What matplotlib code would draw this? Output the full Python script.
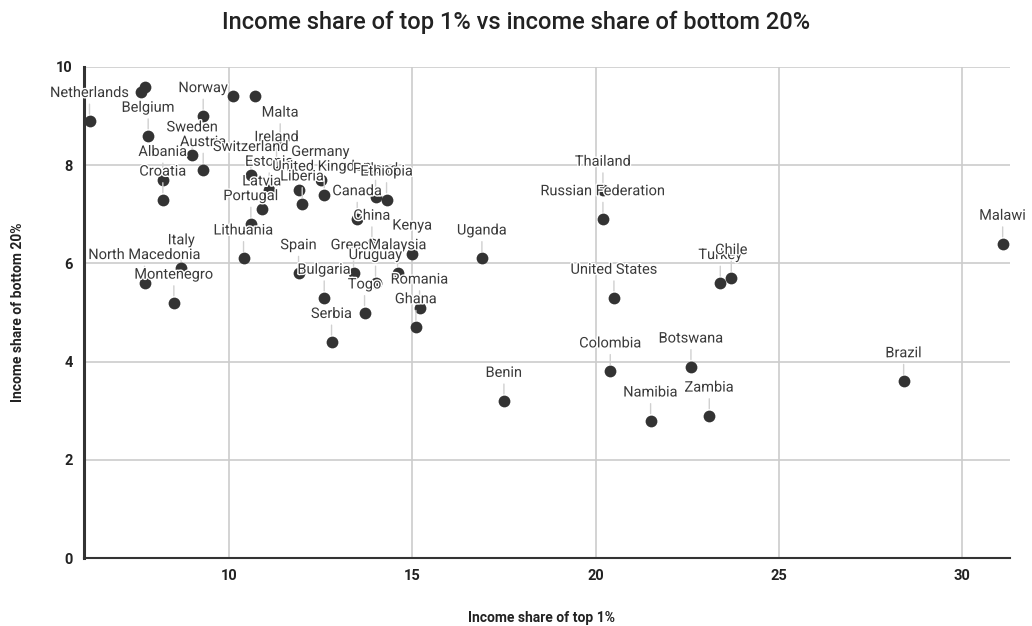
import matplotlib
matplotlib.use("Agg")
import matplotlib.pyplot as plt
import matplotlib.patheffects as pe

plt.rcParams['font.family'] = ['Roboto', 'DejaVu Sans']

countries = ["Netherlands", "", "", "Belgium", "Norway", "", "", "Sweden", "Austria",
             "Albania", "Croatia", "Malta", "Ireland", "Switzerland", "Estonia", "Latvia",
             "Portugal", "Germany", "", "United Kingdom", "Liberia", "Poland", "Ethiopia",
             "Canada", "China", "Kenya", "Lithuania", "Italy", "North Macedonia",
             "Montenegro", "Spain", "Greece", "Malaysia", "Uruguay", "Bulgaria", "Togo",
             "Serbia", "Romania", "Ghana", "Uganda", "Benin", "Thailand",
             "Russian Federation", "United States", "Turkey", "Chile", "Colombia",
             "Botswana", "Namibia", "Zambia", "Brazil", "Malawi"]
top1 = [6.2, 7.6, 7.7, 7.8, 9.3, 10.1, 10.7, 9.0, 9.3,
        8.2, 8.2, 11.4, 11.3, 10.6, 11.1, 10.9,
        10.6, 12.5, 11.9, 12.6, 12.0, 14.0, 14.3,
        13.5, 13.9, 15.0, 10.4, 8.7, 7.7,
        8.5, 11.9, 13.4, 14.6, 14.0, 12.6, 13.7,
        12.8, 15.2, 15.1, 16.9, 17.5, 20.2,
        20.2, 20.5, 23.4, 23.7, 20.4,
        22.6, 21.5, 23.1, 28.4, 31.1]
bottom20 = [8.9, 9.5, 9.6, 8.6, 9.0, 9.4, 9.4, 8.2, 7.9,
            7.7, 7.3, 8.5, 8.0, 7.8, 7.5, 7.1,
            6.8, 7.7, 7.5, 7.4, 7.2, 7.35, 7.3,
            6.9, 6.4, 6.2, 6.1, 5.9, 5.6,
            5.2, 5.8, 5.8, 5.8, 5.6, 5.3, 5.0,
            4.4, 5.1, 4.7, 6.1, 3.2, 7.5,
            6.9, 5.3, 5.6, 5.7, 3.8,
            3.9, 2.8, 2.9, 3.6, 6.4]

x_ticks = [10, 15, 20, 25, 30]
y_ticks = [0, 2, 4, 6, 8, 10]

fig = plt.figure(figsize=(10.32, 6.26), dpi=100)
ax = fig.add_axes([84/1032, 1-558/626, (1010-84)/1032, (558-67)/626])

ax.set_xlim(6.05, 31.3)
ax.set_ylim(0, 10)
ax.set_xticks(x_ticks)
ax.set_yticks(y_ticks)
ax.grid(True, color='#cccccc', linewidth=1.2)
ax.set_axisbelow(True)
for s in ['top', 'right']:
    ax.spines[s].set_visible(False)
ax.spines['left'].set_linewidth(2.2)
ax.spines['left'].set_color('#333333')
ax.spines['bottom'].set_linewidth(1.5)
ax.spines['bottom'].set_color('#333333')
ax.tick_params(length=0, labelsize=10.5, labelcolor='#222222', pad=8)
for lab in ax.get_xticklabels() + ax.get_yticklabels():
    lab.set_fontweight('bold')

ax.scatter(top1, bottom20, s=72, color='#333333', zorder=3, linewidths=0)

halo = [pe.withStroke(linewidth=2, foreground='white')]
for name, xv, yv in zip(countries, top1, bottom20):
    if not name:
        continue
    ax.annotate(name, (xv, yv), xytext=(0, 28), textcoords='offset pixels',
                ha='center', va='center', fontsize=10.5, color='#3a3a3a',
                path_effects=halo, zorder=4,
                arrowprops=dict(arrowstyle='-', color='#d0d0d0', lw=1,
                                shrinkA=1, shrinkB=5))

fig.text(516/1032, 1-22/626, "Income share of top 1% vs income share of bottom 20%",
         ha='center', va='center', fontsize=17, fontweight='medium', color='#222222')
fig.text(541/1032, 1-618/626, "Income share of top 1%", ha='center', va='center',
         fontsize=10, fontweight='bold', color='#222222')
fig.text(18/1032, 1-312/626, "Income share of bottom 20%", ha='center', va='center',
         rotation=90, fontsize=10, fontweight='bold', color='#222222')

fig.savefig("out.png", dpi=100)
